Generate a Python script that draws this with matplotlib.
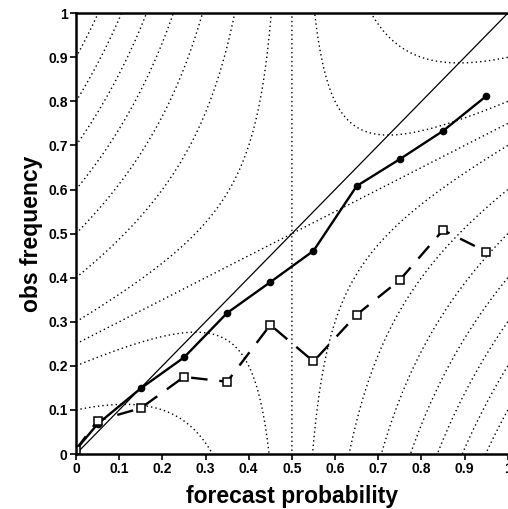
import matplotlib
matplotlib.use("Agg")
import matplotlib.pyplot as plt
import numpy as np

plt.rcParams['font.family'] = ['Liberation Sans', 'DejaVu Sans']
plt.rcParams['font.weight'] = 'bold'

# reliability data
fcst = [0.0, 0.05, 0.15, 0.25, 0.35, 0.45, 0.55, 0.65, 0.75, 0.85, 0.95]
obs_solid = [0.01, 0.068, 0.149, 0.219, 0.32, 0.39, 0.461, 0.608, 0.669, 0.733, 0.812]
obs_dashed = [0.01, 0.076, 0.104, 0.175, 0.164, 0.293, 0.21, 0.316, 0.395, 0.508, 0.459]

# Brier score contour levels
bs_levels = [0.1, 0.2, 0.25, 0.3, 0.4, 0.5, 0.6, 0.7, 0.8, 0.9]

xticks = [0, 0.1, 0.2, 0.3, 0.4, 0.5, 0.6, 0.7, 0.8, 0.9, 1]
xtick_labels = ['0', '0.1', '0.2', '0.3', '0.4', '0.5', '0.6', '0.7', '0.8', '0.9', '1']

fig = plt.figure(figsize=(5.08, 5.09), dpi=100)
ax = fig.add_axes([0.1496, 0.108, 0.85, 0.866])

# BS = o(1-p)^2 + (1-o)p^2
g = np.linspace(0, 1, 600)
P, O = np.meshgrid(g, g)
BS = O * (1 - P) ** 2 + (1 - O) * P ** 2
ax.contour(P, O, BS, levels=bs_levels, colors='black', linewidths=1.0,
           linestyles=[(0, (1, 2.2))])

ax.plot([0, 1], [0, 1], color='black', lw=0.9)
ax.plot(fcst, obs_solid, color='black', lw=1.7, marker='o', ms=4.5)
ax.plot(fcst, obs_dashed, color='black', lw=1.7, dashes=(7, 5),
        marker='s', ms=5.5, mfc='white', mec='black', mew=1.1)

ax.set_xlim(0, 1)
ax.set_ylim(0, 1)
ax.set_xticks(xticks)
ax.set_xticklabels(xtick_labels)
ax.set_yticks(xticks)
ax.set_yticklabels(xtick_labels)
ax.tick_params(direction='out', length=4, width=1.2, labelsize=10, pad=2)
for s in ['left', 'bottom', 'top']:
    ax.spines[s].set_linewidth(1.8)
ax.spines['right'].set_visible(False)

ax.set_xlabel('forecast probability', fontsize=16.5, fontweight='bold', labelpad=6)
ax.set_ylabel('obs frequency', fontsize=16.5, fontweight='bold', labelpad=4)

fig.savefig('out.png', dpi=100)
